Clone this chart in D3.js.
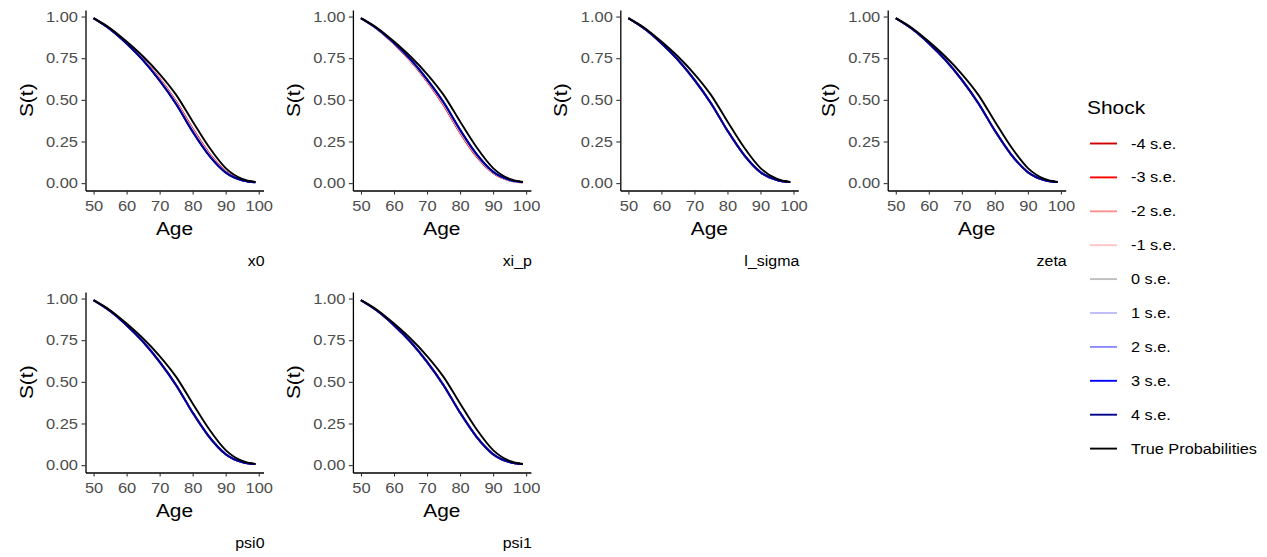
<!DOCTYPE html>
<html lang="en">
<head>
  <meta charset="UTF-8">
  <title>Survival curves under parameter shocks</title>
  <script src="https://d3js.org/d3.v7.min.js"></script>
  <style>
    body {
      margin: 0;
      padding: 0;
      background: #fff;
      font-family: "Liberation Sans", Arial, Helvetica, sans-serif;
    }
    .tick text { fill: #4d4d4d; font-size: 15px; font-family: "Liberation Sans", Arial, sans-serif; }
    .tick line { stroke: #333; }
    .domain { stroke: #000; }
  </style>
</head>
<body>
  <div id="chart"></div>
  <script>
    const ages = [50, 55, 60, 65, 70, 75, 80, 85, 90, 95, 99];

    // true survival probabilities (black line, same in every panel)
    const trueProb = [0.99, 0.93, 0.85, 0.76, 0.655, 0.53, 0.37, 0.215, 0.09, 0.025, 0.007];

    // fitted curve with no visible spread between shocks
    const fitProb = [0.99, 0.925, 0.84, 0.74, 0.62, 0.48, 0.315, 0.17, 0.066, 0.018, 0.006];

    const shockLabels = ["-4 s.e.", "-3 s.e.", "-2 s.e.", "-1 s.e.", "0 s.e.", "1 s.e.", "2 s.e.", "3 s.e.", "4 s.e."];
    const shockColors = ["#d00000", "#ff0000", "#ff9090", "#ffc4c4", "#bebebe", "#bcbcff", "#8a8aff", "#0000ff", "#00008b"];

    const panelNames = ["x0", "xi_p", "l_sigma", "zeta", "psi0", "psi1"];

    // one row per shock, -4 s.e. to 4 s.e.
    const x0Shock = [
      [0.99, 0.926, 0.843, 0.745, 0.627, 0.490, 0.327, 0.179, 0.071, 0.019, 0.006],
      [0.99, 0.926, 0.842, 0.743, 0.625, 0.487, 0.323, 0.176, 0.069, 0.019, 0.006],
      [0.99, 0.925, 0.841, 0.742, 0.623, 0.484, 0.320, 0.174, 0.068, 0.018, 0.006],
      [0.99, 0.925, 0.841, 0.741, 0.621, 0.482, 0.317, 0.172, 0.067, 0.018, 0.006],
      [0.99, 0.925, 0.840, 0.740, 0.620, 0.480, 0.315, 0.170, 0.066, 0.018, 0.006],
      [0.99, 0.925, 0.839, 0.739, 0.619, 0.478, 0.313, 0.168, 0.065, 0.017, 0.006],
      [0.99, 0.924, 0.839, 0.738, 0.617, 0.476, 0.311, 0.167, 0.064, 0.017, 0.005],
      [0.99, 0.924, 0.838, 0.737, 0.616, 0.475, 0.309, 0.166, 0.064, 0.017, 0.005],
      [0.99, 0.924, 0.838, 0.737, 0.615, 0.474, 0.308, 0.165, 0.063, 0.017, 0.005]
    ];
    const xiShock = [
      [0.99, 0.924, 0.836, 0.734, 0.612, 0.469, 0.303, 0.160, 0.061, 0.016, 0.005],
      [0.99, 0.924, 0.837, 0.736, 0.614, 0.472, 0.306, 0.163, 0.063, 0.017, 0.005],
      [0.99, 0.924, 0.838, 0.737, 0.616, 0.475, 0.309, 0.166, 0.064, 0.017, 0.005],
      [0.99, 0.925, 0.839, 0.739, 0.618, 0.478, 0.312, 0.168, 0.065, 0.018, 0.006],
      [0.99, 0.925, 0.840, 0.740, 0.620, 0.480, 0.315, 0.170, 0.066, 0.018, 0.006],
      [0.99, 0.925, 0.841, 0.741, 0.621, 0.482, 0.317, 0.171, 0.067, 0.018, 0.006],
      [0.99, 0.926, 0.841, 0.742, 0.622, 0.484, 0.319, 0.173, 0.068, 0.018, 0.006],
      [0.99, 0.926, 0.842, 0.743, 0.623, 0.485, 0.320, 0.174, 0.068, 0.019, 0.006],
      [0.99, 0.926, 0.842, 0.743, 0.623, 0.485, 0.321, 0.174, 0.068, 0.019, 0.006]
    ];
    const flatShock = [fitProb, fitProb, fitProb, fitProb, fitProb, fitProb, fitProb, fitProb, fitProb];
    const panelShocks = [x0Shock, xiShock, flatShock, flatShock, flatShock, flatShock];

    const width = 1267;
    const height = 557;
    const sx = 1.1; // glyphs in the source are a bit wider than Liberation Sans

    const svg = d3.select("#chart")
      .append("svg")
      .attr("width", width)
      .attr("height", height);

    const plotW = 178;
    const plotH = 180.5;
    const colStep = 267.4;
    const rowStep = 282;

    // ggplot style 5% expansion
    const allVals = trueProb.concat(fitProb, ...x0Shock, ...xiShock);
    const yMin = d3.min(allVals), yMax = d3.max(allVals);
    const yPad = (yMax - yMin) * 0.05;
    const xPad = (d3.max(ages) - d3.min(ages)) * 0.05;

    const x = d3.scaleLinear()
      .domain([d3.min(ages) - xPad, d3.max(ages) + xPad])
      .range([0, plotW]);
    const y = d3.scaleLinear()
      .domain([yMin - yPad, yMax + yPad])
      .range([plotH, 0]);

    const line = d3.line()
      .x((d, i) => x(ages[i]))
      .y(d => y(d))
      .curve(d3.curveMonotoneX);

    // put a text at (px, py), widened along its own direction
    function addText(parent, px, py, str, size, anchor, rot) {
      return parent.append("text")
        .attr("transform", `translate(${px},${py})` + (rot ? ` rotate(${rot})` : "") + ` scale(${sx},1)`)
        .attr("text-anchor", anchor)
        .attr("font-size", size)
        .attr("fill", "#000")
        .text(str);
    }

    panelNames.forEach((name, p) => {
      const col = p % 4, row = Math.floor(p / 4);
      const g = svg.append("g")
        .attr("transform", `translate(${85.5 + col * colStep},${10 + row * rowStep})`);

      // shock lines first, true curve on top
      panelShocks[p].forEach((vals, k) => {
        g.append("path")
          .attr("d", line(vals))
          .attr("fill", "none")
          .attr("stroke", shockColors[k])
          .attr("stroke-width", 1.9);
      });
      g.append("path")
        .attr("d", line(trueProb))
        .attr("fill", "none")
        .attr("stroke", "#000")
        .attr("stroke-width", 1.9);

      const xAxis = g.append("g")
        .attr("transform", `translate(0,${plotH})`)
        .call(d3.axisBottom(x).tickValues([50, 60, 70, 80, 90, 100]).tickSize(4).tickPadding(6).tickSizeOuter(0));
      const yAxis = g.append("g")
        .call(d3.axisLeft(y).tickValues([0, 0.25, 0.5, 0.75, 1]).tickFormat(d3.format(".2f")).tickSize(4).tickPadding(3.5).tickSizeOuter(0));
      [xAxis, yAxis].forEach(a => {
        a.select(".domain").attr("stroke-width", 1.3);
        a.selectAll(".tick line").attr("stroke-width", 1.1);
        a.selectAll(".tick text").each(function () {
          const t = d3.select(this);
          const tx = +t.attr("x") || 0;
          t.attr("x", tx / sx).attr("transform", `scale(${sx},1)`);
        });
      });

      addText(g, plotW / 2, plotH + 44, "Age", 19, "middle");
      addText(g, -53, plotH / 2, "S(t)", 19, "middle", -90);
      addText(g, plotW + 1, plotH + 75.5, name, 14.5, "end");
    });

    // legend
    const legend = svg.append("g").attr("transform", "translate(1087,0)");
    addText(legend, 0, 114, "Shock", 19, "start");

    const legendItems = shockLabels.map((l, i) => ({ label: l, color: shockColors[i] }))
      .concat([{ label: "True Probabilities", color: "#000" }]);

    const key = legend.selectAll("g.key")
      .data(legendItems)
      .join("g")
      .attr("class", "key")
      .attr("transform", (d, i) => `translate(0,${143.5 + i * 33.9})`);
    key.append("line")
      .attr("x1", 3).attr("x2", 30)
      .attr("stroke", d => d.color)
      .attr("stroke-width", 1.9);
    key.each(function (d) {
      addText(d3.select(this), 44, 5, d.label, 14.8, "start");
    });
  </script>
</body>
</html>
